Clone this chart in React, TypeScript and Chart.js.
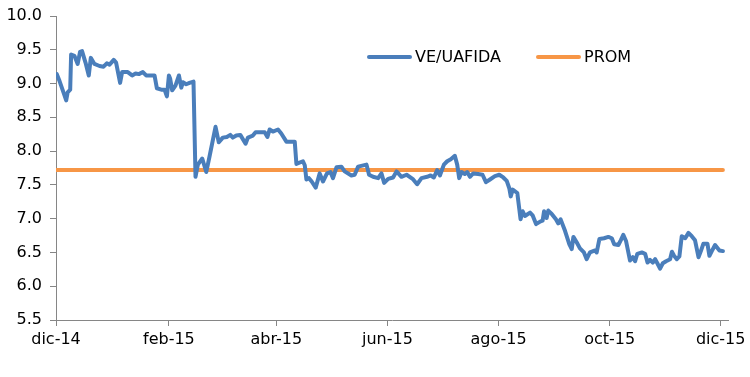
import React, { useEffect, useRef } from "react";
import { Chart, registerables } from "chart.js";

Chart.register(...registerables);

// Days elapsed since 1 Dec 2014
const days: number[] = [
  0.4, 1.9, 4.1, 5.6, 6.4, 7.8, 8.3, 10.1, 11.9, 13.2, 14.3, 16.2, 18.0, 19.1, 21.1, 23.9, 26.1, 27.9, 29.4, 31.7,
  33.0, 35.2, 36.3, 39.4, 41.8, 43.7, 45.5, 47.7, 49.5, 52.3, 54.1, 55.4, 57.8, 59.6, 60.9, 62.0, 62.7, 63.8, 65.6, 67.5,
  68.8, 69.7, 71.5, 73.3, 75.5, 76.6, 77.9, 80.3, 82.5, 84.3, 87.6, 89.4, 91.6, 93.8, 95.7, 97.1, 99.0, 101.2, 104.1, 105.4,
  108.1, 109.6, 114.6, 116.1, 117.3, 119.1, 121.9, 123.7, 126.5, 131.1, 132.0, 135.6, 136.6, 137.5, 138.9, 140.4, 142.6, 144.8, 146.6, 148.8,
  150.7, 152.1, 154.0, 156.7, 158.5, 162.2, 164.0, 165.9, 170.5, 171.9, 174.1, 176.9, 178.7, 180.2, 182.4, 185.1, 187.0, 189.7, 192.5, 195.8,
  198.3, 200.7, 203.8, 205.7, 207.5, 209.3, 210.8, 213.0, 214.8, 216.8, 219.0, 220.3, 221.4, 222.7, 224.5, 225.8, 227.3, 229.1, 231.8, 234.2,
  236.1, 238.3, 241.0, 243.4, 245.6, 247.5, 248.9, 249.7, 250.8, 253.3, 255.1, 256.2, 257.5, 260.3, 261.7, 263.6, 266.1, 267.2, 268.0, 269.4,
  270.3, 272.2, 274.5, 275.8, 277.1, 279.5, 281.9, 283.2, 284.1, 285.9, 287.7, 289.9, 291.4, 293.2, 296.0, 296.9, 298.4, 300.9, 303.3, 305.2,
  306.5, 308.8, 310.1, 311.5, 313.0, 315.2, 316.7, 318.0, 319.2, 321.7, 323.5, 324.8, 326.2, 327.7, 329.0, 330.2, 331.7, 333.2, 335.0, 337.2,
  338.2, 339.4, 340.9, 342.3, 343.6, 345.5, 347.3, 349.1, 350.9, 352.8, 354.1, 355.5, 357.7, 358.8, 360.1, 361.9, 364.3, 366.2,
];

const veUafida: number[] = [
  9.14, 9.04, 8.87, 8.75, 8.87, 8.91, 9.43, 9.41, 9.29, 9.47, 9.48, 9.31, 9.12, 9.38, 9.29, 9.26, 9.25, 9.30, 9.28, 9.35,
  9.31, 9.01, 9.17, 9.17, 9.12, 9.15, 9.14, 9.17, 9.12, 9.12, 9.12, 8.93, 8.91, 8.91, 8.81, 9.12, 9.07, 8.90, 8.97, 9.12,
  8.94, 9.02, 8.99, 9.01, 9.03, 7.62, 7.80, 7.89, 7.69, 7.92, 8.36, 8.13, 8.20, 8.21, 8.24, 8.20, 8.23, 8.24, 8.11, 8.20,
  8.23, 8.28, 8.28, 8.21, 8.32, 8.29, 8.32, 8.26, 8.14, 8.14, 7.81, 7.85, 7.79, 7.58, 7.60, 7.55, 7.46, 7.67, 7.55, 7.67,
  7.69, 7.60, 7.76, 7.77, 7.70, 7.64, 7.65, 7.77, 7.80, 7.65, 7.62, 7.60, 7.67, 7.53, 7.59, 7.61, 7.70, 7.62, 7.65, 7.59,
  7.51, 7.60, 7.62, 7.64, 7.61, 7.72, 7.64, 7.80, 7.85, 7.88, 7.93, 7.80, 7.60, 7.69, 7.66, 7.69, 7.62, 7.67, 7.66, 7.65,
  7.54, 7.58, 7.63, 7.65, 7.61, 7.56, 7.45, 7.33, 7.43, 7.38, 6.99, 7.11, 7.04, 7.09, 7.05, 6.92, 6.96, 6.97, 7.11, 7.01,
  7.12, 7.07, 6.99, 6.93, 6.99, 6.82, 6.62, 6.55, 6.73, 6.65, 6.56, 6.50, 6.40, 6.50, 6.53, 6.50, 6.70, 6.71, 6.73, 6.71,
  6.62, 6.61, 6.68, 6.76, 6.67, 6.38, 6.43, 6.37, 6.48, 6.50, 6.48, 6.35, 6.39, 6.35, 6.40, 6.34, 6.26, 6.34, 6.37, 6.40,
  6.51, 6.45, 6.40, 6.44, 6.74, 6.71, 6.79, 6.74, 6.68, 6.43, 6.52, 6.63, 6.63, 6.45, 6.52, 6.61, 6.53, 6.52,
];

const promValue = 7.72;

// Month ticks (days since 1 Dec 2014) and their labels
const tickDays: number[] = [0, 62, 121, 182, 243, 304, 365];
const tickLabels: string[] = ["dic-14", "feb-15", "abr-15", "jun-15", "ago-15", "oct-15", "dic-15"];

const BLUE = "#4A7EBB";
const ORANGE = "#F79646";
const AXIS = "#868686";
const FONT = "'DejaVu Sans', Verdana, sans-serif";

const legendPlugin = {
  id: "customLegend",
  afterDraw(chart: any) {
    const ctx = chart.ctx;
    const starts = [369, 538];
    const y = 57;
    ctx.save();
    chart.data.datasets.forEach((ds: any, i: number) => {
      const x0 = starts[i];
      ctx.strokeStyle = ds.borderColor;
      ctx.lineWidth = 4;
      ctx.lineCap = "round";
      ctx.beginPath();
      ctx.moveTo(x0, y);
      ctx.lineTo(x0 + 41, y);
      ctx.stroke();
      ctx.fillStyle = "#000";
      ctx.font = `16px ${FONT}`;
      ctx.textBaseline = "middle";
      ctx.textAlign = "left";
      ctx.fillText(ds.label, x0 + 46, y + 1);
    });
    ctx.restore();
  },
};

export default function App() {
  const ref = useRef<HTMLCanvasElement>(null);

  useEffect(() => {
    document.body.style.margin = "0";
    const canvas = ref.current;
    if (!canvas) return;
    const chart = new Chart(canvas, {
      type: "line",
      data: {
        datasets: [
          {
            label: "VE/UAFIDA",
            data: days.map((d, i) => ({ x: d, y: veUafida[i] })),
            borderColor: BLUE,
            borderWidth: 4,
            pointRadius: 0,
            borderJoinStyle: "round",
            borderCapStyle: "round",
            tension: 0,
          },
          {
            label: "PROM",
            data: [
              { x: days[0], y: promValue },
              { x: days[days.length - 1], y: promValue },
            ],
            borderColor: ORANGE,
            borderWidth: 4,
            pointRadius: 0,
            borderCapStyle: "round",
          },
        ],
      },
      options: {
        animation: false,
        responsive: false,
        maintainAspectRatio: false,
        layout: { padding: { top: 4, right: 22, left: 0, bottom: 0 } },
        plugins: {
          legend: { display: false },
          tooltip: { enabled: false },
        },
        scales: {
          x: {
            type: "linear",
            min: 0,
            max: 369,
            afterBuildTicks(scale: any) {
              scale.ticks = tickDays.map((v) => ({ value: v }));
            },
            afterFit(scale: any) {
              scale.height = 57;
            },
            ticks: {
              autoSkip: false,
              maxRotation: 0,
              padding: 4,
              color: "#000",
              font: { family: FONT, size: 16 },
              callback: (v: any) => {
                const idx = tickDays.indexOf(Number(v));
                return idx >= 0 ? tickLabels[idx] : "";
              },
            },
            grid: { drawOnChartArea: false, drawTicks: true, tickLength: 6, color: AXIS },
            border: { color: AXIS, width: 1 },
          },
          y: {
            min: 5.5,
            max: 10,
            afterFit(scale: any) {
              scale.width = 56;
            },
            ticks: {
              stepSize: 0.5,
              padding: 8,
              color: "#000",
              font: { family: FONT, size: 16, lineHeight: 1 },
              callback: (v: any) => Number(v).toFixed(1),
            },
            grid: { drawOnChartArea: false, drawTicks: true, tickLength: 6, color: AXIS },
            border: { color: AXIS, width: 1 },
          },
        },
      },
      plugins: [legendPlugin],
    });
    return () => chart.destroy();
  }, []);

  return (
    <div style={{ width: 750, height: 377, background: "#fff" }}>
      <canvas ref={ref} width={750} height={377} style={{ display: "block" }} />
    </div>
  );
}
